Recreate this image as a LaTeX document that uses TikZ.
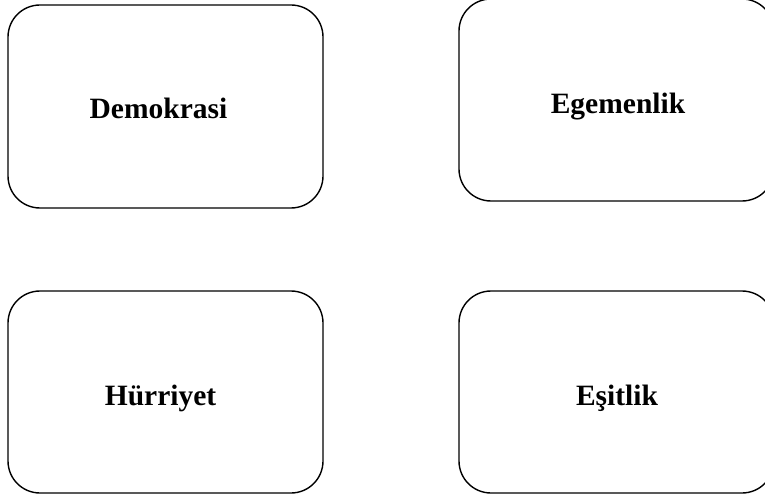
\documentclass[tikz,border=0pt]{standalone}
\usepackage{fontspec}
\setmainfont{Liberation Serif}
\begin{document}
\begin{tikzpicture}[x=1pt,y=-1pt,
  card/.style={draw=black,line width=1.4pt,rounded corners=32pt},
  lbl/.style={font=\fontsize{29.5}{34}\selectfont\bfseries,anchor=base,inner sep=0pt}]
\useasboundingbox (0,0) rectangle (765,497);
\clip (0,0) rectangle (765,497);
\draw[card] (8,5) rectangle (323,208);
\draw[card] (459,-1) rectangle (774,201);
\draw[card] (8,291) rectangle (323,493);
\draw[card] (459,291) rectangle (774,493);
\node[lbl] (demo) at (158.5,119) {Demokrasi};
\node[lbl] (ege) at (618,114) {Egemenlik};
\node[lbl] (hur) at (160.5,405) {Hürriyet};
\node[lbl] (esit) at (617,405) {Eşitlik};
\end{tikzpicture}
\end{document}
